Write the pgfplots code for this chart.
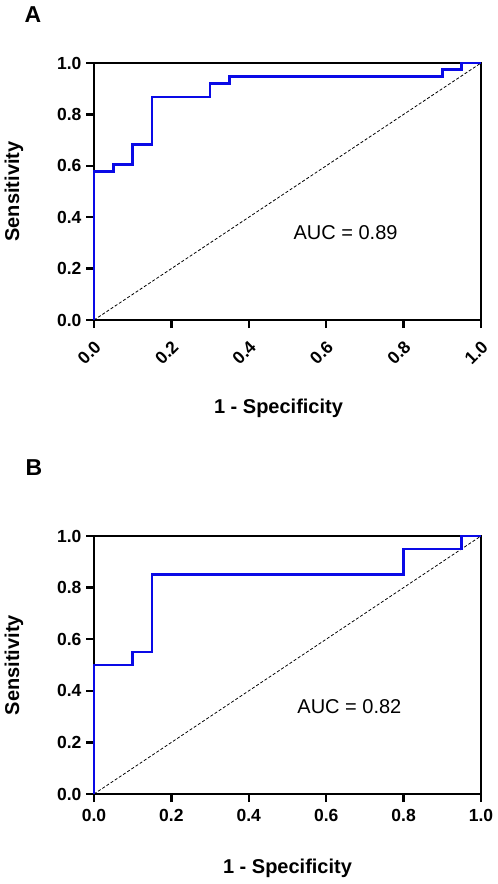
\documentclass[border=0pt]{standalone}
\usepackage{pgfplots}
\pgfplotsset{compat=1.18}
\usepackage{fontspec}
\setmainfont{Liberation Sans}
\definecolor{roc}{RGB}{10,10,230}
\pgfplotsset{
  rocaxis/.style={
    scale only axis, width=387pt,
    xmin=0, xmax=1, ymin=0, ymax=1,
    axis line style={line width=2.8pt, line cap=rect},
    tick style={line width=2.5pt, black},
    tick align=outside, major tick length=8pt,
    tick pos=left,
    xtick={0,0.2,0.4,0.6,0.8,1}, ytick={0,0.2,0.4,0.6,0.8,1},
    tick label style={font=\bfseries\fontsize{17.5}{19}\selectfont},
    yticklabel style={xshift=-1pt},
    /pgf/number format/.cd, fixed, fixed zerofill, precision=1, assume math mode=true,
    /pgfplots/.cd,
    xlabel={1 - Specificity}, ylabel={Sensitivity},
    label style={font=\bfseries\fontsize{20}{24}\selectfont},
    ylabel style={at={(axis description cs:0,0.5)}, anchor=center, yshift=80pt},
    clip=false,
  },
  rocline/.style={color=roc, line width=2.7pt, line join=miter},
  diag/.style={black, line width=0.8pt, dash pattern=on 3pt off 2pt},
}
\begin{document}
\begin{tikzpicture}
\useasboundingbox (0pt,0pt) rectangle (498pt,-884pt);
\node[font=\bfseries\fontsize{23}{26}\selectfont] at (33pt,-15pt) {A};
\node[font=\bfseries\fontsize{23}{26}\selectfont] at (34pt,-468pt) {B};
\begin{axis}[rocaxis, height=257pt, at={(94pt,-320pt)}, anchor=south west,
  xticklabel style={rotate=45, anchor=east, xshift=-5pt, yshift=-14pt},
  xlabel style={at={(axis description cs:0.5,0)}, anchor=center, yshift=-88pt, xshift=-9pt}]
\addplot[diag] coordinates {(0,0) (1,1)};
\addplot[rocline] coordinates {
(0,0) (0,0.579) (0.05,0.579) (0.05,0.605) (0.10,0.605) (0.10,0.684)
(0.15,0.684) (0.15,0.868) (0.30,0.868) (0.30,0.921) (0.35,0.921)
(0.35,0.947) (0.90,0.947) (0.90,0.974) (0.95,0.974) (0.95,1) (1,1)};
\node[font=\fontsize{20}{24}\selectfont] at (axis cs:0.65,0.34) {AUC = 0.89};
\end{axis}
\begin{axis}[rocaxis, height=258pt, at={(94pt,-794pt)}, anchor=south west,
  xticklabel style={yshift=-4pt},
  xlabel style={at={(axis description cs:0.5,0)}, anchor=center, yshift=-74pt}]
\addplot[diag] coordinates {(0,0) (1,1)};
\addplot[rocline] coordinates {
(0,0) (0,0.5) (0.10,0.5) (0.10,0.55) (0.15,0.55) (0.15,0.85)
(0.80,0.85) (0.80,0.95) (0.95,0.95) (0.95,1) (1,1)};
\node[font=\fontsize{20}{24}\selectfont] at (axis cs:0.66,0.34) {AUC = 0.82};
\end{axis}
\end{tikzpicture}
\end{document}
